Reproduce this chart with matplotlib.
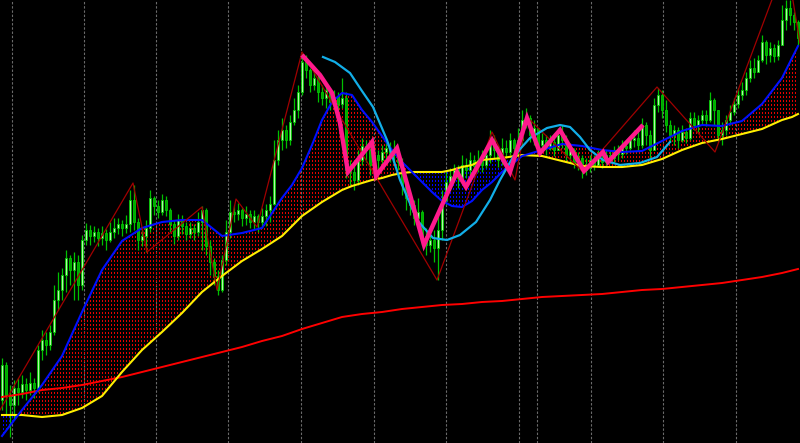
import numpy as np
import matplotlib
matplotlib.use("Agg")
import matplotlib.pyplot as plt
from matplotlib.path import Path

# ---------------- data (price units) ----------------
open0 = 43
close = [78, 48, 38, 55, 51, 59, 53, 60, 55, 93,
         103, 98, 111, 143, 153, 168, 185, 173, 181, 158,
         203, 213, 207, 211, 205, 210, 203, 211, 215, 219,
         215, 219, 243, 221, 203, 207, 215, 245, 237, 231,
         243, 233, 219, 207, 223, 217, 209, 215, 211, 221,
         233, 197, 181, 167, 153, 183, 211, 231, 229, 233,
         225, 229, 221, 227, 221, 227, 233, 239, 283, 303,
         313, 303, 321, 333, 351, 381, 373, 358, 365, 351,
         345, 353, 341, 346, 339, 345, 273, 271, 263, 283,
         297, 293, 278, 288, 283, 291, 295, 288, 293, 281,
         258, 245, 238, 225, 231, 207, 198, 203, 195, 213,
         243, 261, 267, 273, 265, 278, 273, 283, 277, 283,
         278, 288, 303, 293, 283, 295, 291, 303, 295, 303,
         323, 325, 308, 315, 298, 303, 295, 301, 293, 308,
         303, 288, 293, 281, 285, 273, 278, 283, 278, 285,
         281, 288, 285, 293, 289, 297, 295, 303, 305, 298,
         318, 308, 293, 338, 348, 333, 318, 308, 313, 303,
         311, 305, 325, 318, 323, 328, 323, 343, 333, 308,
         313, 323, 331, 339, 348, 353, 365, 375, 371, 383,
         401, 388, 395, 387, 398, 423, 435, 428, 421, 405]
high = [85, 81, 58, 63, 65, 68, 65, 71, 65, 98,
        113, 111, 118, 158, 171, 175, 193, 188, 191, 188,
        208, 220, 218, 217, 215, 217, 214, 221, 225, 225,
        223, 228, 253, 258, 225, 215, 223, 253, 247, 243,
        249, 247, 235, 223, 229, 228, 221, 221, 219, 231,
        237, 235, 203, 185, 173, 188, 223, 243, 238, 240,
        235, 237, 233, 233, 229, 235, 239, 247, 303, 313,
        325, 318, 328, 345, 358, 391, 388, 375, 373, 368,
        358, 359, 355, 353, 351, 365, 351, 283, 278, 293,
        305, 303, 295, 298, 293, 298, 301, 301, 303, 295,
        285, 263, 251, 243, 245, 233, 215, 211, 213, 228,
        253, 271, 275, 279, 278, 288, 285, 291, 288, 293,
        293, 297, 313, 308, 298, 305, 303, 310, 305, 315,
        333, 335, 328, 323, 313, 310, 308, 308, 310, 315,
        318, 308, 300, 295, 291, 288, 285, 288, 288, 293,
        291, 293, 293, 297, 298, 303, 303, 307, 313, 313,
        325, 321, 313, 345, 355, 353, 343, 323, 318, 316,
        318, 315, 331, 331, 328, 333, 333, 351, 345, 333,
        321, 328, 338, 345, 355, 361, 371, 383, 385, 388,
        408, 403, 401, 399, 403, 438, 443, 443, 431, 423]
low = [33, 28, 6, 23, 38, 45, 43, 48, 45, 51,
       83, 88, 93, 108, 133, 143, 151, 158, 143, 143,
       153, 198, 198, 201, 197, 198, 193, 201, 205, 209,
       207, 210, 211, 213, 193, 197, 191, 211, 228, 225,
       228, 227, 211, 199, 203, 209, 203, 205, 203, 207,
       193, 188, 168, 158, 148, 151, 178, 205, 221, 223,
       217, 218, 215, 213, 211, 215, 217, 221, 238, 278,
       293, 295, 298, 318, 325, 348, 365, 351, 353, 341,
       338, 335, 333, 337, 331, 335, 265, 258, 253, 258,
       278, 281, 268, 273, 271, 275, 283, 281, 278, 273,
       248, 233, 228, 218, 221, 198, 188, 191, 181, 163,
       203, 238, 253, 261, 255, 261, 265, 268, 268, 271,
       271, 275, 280, 285, 276, 278, 285, 288, 287, 283,
       298, 315, 301, 298, 291, 293, 288, 293, 287, 293,
       295, 281, 281, 275, 273, 265, 268, 271, 273, 276,
       275, 278, 280, 281, 283, 285, 289, 293, 296, 293,
       295, 298, 285, 293, 331, 325, 311, 301, 298, 295,
       301, 300, 303, 313, 311, 318, 317, 321, 318, 301,
       298, 308, 318, 328, 335, 343, 348, 361, 365, 371,
       381, 379, 381, 381, 383, 398, 413, 418, 413, 398]

# fast (blue) and slow (yellow) moving averages, read at these bar positions
ma_idx = [0, 5, 10, 15, 20, 25, 30, 35, 40, 45, 50, 55, 60, 65, 70,
          72.5, 75, 77.5, 80, 82.5, 85, 87.5, 90, 92.5, 95, 97.5, 100,
          102.5, 105, 107.5, 110, 112.5, 115, 117.5, 120, 122.5, 125,
          130, 135, 140, 145, 150, 155, 160, 165, 170, 175, 180, 185,
          190, 195, 197.5, 199]
ma_blue = [7, 33, 58, 87, 131, 173, 202, 215, 221, 223, 223, 207, 210, 215, 245,
           258, 275, 298, 323, 341, 350, 348, 333, 321, 307, 293, 281,
           271, 261, 251, 242, 237, 236, 242, 253, 261, 271,
           287, 293, 299, 297, 293, 291, 292, 302, 312, 318, 317, 322,
           339, 365, 385, 397]
ma_yellow = [28, 28, 26, 28, 35, 47, 71, 93, 111, 130, 151, 167, 182, 194, 207,
             217, 227, 234, 241, 247, 253, 257, 260, 263, 265, 268, 270,
             271, 271, 271, 271, 273, 276, 278, 283, 284, 285,
             288, 287, 282, 277, 276, 276, 278, 284, 293, 300, 304, 309,
             314, 323, 326, 329]

# long (red) moving average
red_idx = list(range(0, 200, 5)) + [199]
ma_red = [46, 49, 53, 55, 58, 62, 66, 71, 76, 81,
          86, 91, 96, 102, 107, 114, 120, 126, 129, 131,
          134, 136, 138, 139, 141, 142, 144, 146, 147, 148,
          149, 151, 153, 154, 156, 158, 160, 163, 166, 170, 174]

cyan_idx = [80.25, 83.25, 87, 90, 92.75, 96.25, 99.5, 103.75, 107.75, 111.25,
            114.5, 118.5, 122, 124.5, 127.75, 132, 136.25, 139.5, 142, 144.5,
            147, 150.25, 154.5, 159.5, 163.75, 167]
cyan_val = [386, 381, 370, 352, 336, 303, 263, 223, 205, 203,
            208, 221, 243, 263, 286, 305, 315, 318, 316, 306,
            293, 283, 278, 280, 286, 301]

pink_idx = [75, 79.5, 82.5, 84.5, 86.5, 92.5, 93.5, 98.75, 105.5, 113.75,
            116, 122.5, 127, 131.25, 134.5, 139.5, 145.5, 150.25, 151.5, 160.25]
pink_val = [388, 368, 350, 320, 271, 301, 267, 295, 198, 271,
            256, 303, 271, 325, 290, 313, 272, 291, 281, 318]

zz_idx = [-0.5, 32.75, 36.25, 50, 53.75, 58.5, 63.75, 75, 108.75, 122.5,
          128.25, 131.25, 145.25, 163.75, 178.25, 196.1, 199.5]
zz_val = [33, 260, 191, 236, 153, 244, 216, 391, 163, 311,
          263, 326, 271, 356, 291, 482, 400]

sep_idx = [2.4, 20.5, 38.5, 56.6, 74.75, 92.9, 111.1, 129.2, 133.75, 147.25, 165.3, 183.5]

# ---------------- figure ----------------
W, H = 800, 443
fig = plt.figure(figsize=(W / 100, H / 100), dpi=100, facecolor="black")
ax = fig.add_axes([0, 0, 1, 1])
ax.set_facecolor("black")
n = len(close)
XL = (-0.5, n - 0.5)
YL = (0, 443)
ax.set_xlim(*XL)
ax.set_ylim(*YL)
ax.axis("off")

# period separators
for s in sep_idx:
    ax.axvline(s, color="#6a6a6a", lw=0.8, ls=(0, (2.2, 1.6)), zorder=0.5)

# dotted fills between blue and yellow MAs
mx = np.array(ma_idx, float)
mb = np.array(ma_blue, float)
my = np.array(ma_yellow, float)
yy, xx = np.mgrid[0:H, 0:W]
mask = (xx % 3 == 0) & (yy % 4 < 2)


def pattern(rgb):
    img = np.zeros((H, W, 4))
    img[mask] = (*rgb, 1.0)
    return img


for cond, rgb in ((mb >= my, (0.9, 0.0, 0.0)), (mb < my, (0.0, 0.0, 1.0))):
    coll = ax.fill_between(mx, mb, my, where=cond, interpolate=True,
                           facecolor="none", edgecolor="none")
    paths = coll.get_paths()
    if len(paths) == 0:
        continue
    comp = Path.make_compound_path(*paths)
    im = ax.imshow(pattern(rgb), extent=(XL[0], XL[1], YL[0], YL[1]), origin="upper",
                   interpolation="nearest", aspect="auto", zorder=1)
    im.set_clip_path(comp, ax.transData)

# candles
c = np.array(close, float)
o = np.concatenate([[open0], c[:-1]])
hi = np.maximum(np.array(high, float), np.maximum(o, c))
lo = np.minimum(np.array(low, float), np.minimum(o, c))
idx = np.arange(n)
ax.vlines(idx, lo, hi, color="#00c000", lw=0.9, zorder=2)
bull = c >= o
bot = np.minimum(o, c)
hgt = np.maximum(np.abs(c - o), 0.8)
ax.bar(idx[bull], hgt[bull], bottom=bot[bull], width=0.7, color="#b4f7a8",
       edgecolor="#00c800", linewidth=0.6, zorder=2.1)
ax.bar(idx[~bull], hgt[~bull], bottom=bot[~bull], width=0.7, color="#00a800",
       edgecolor="#00c800", linewidth=0.6, zorder=2.1)

# moving averages
ax.plot(red_idx, ma_red, color="#ff0000", lw=1.4, zorder=3)
ax.plot(ma_idx, ma_yellow, color="#ffee00", lw=1.5, zorder=3)
ax.plot(ma_idx, ma_blue, color="#0010ff", lw=1.5, zorder=3)

# zigzag
ax.plot(zz_idx, zz_val, color="#a00000", lw=0.9, zorder=3.5)

# cyan curve
ax.plot(cyan_idx, cyan_val, color="#12aee8", lw=1.6, zorder=4)

# pink zigzag
ax.plot(pink_idx, pink_val, color="#ff1a8c", lw=3.2, zorder=5,
        solid_joinstyle="miter", solid_capstyle="butt")

fig.savefig("out.png", dpi=100, facecolor="black")
